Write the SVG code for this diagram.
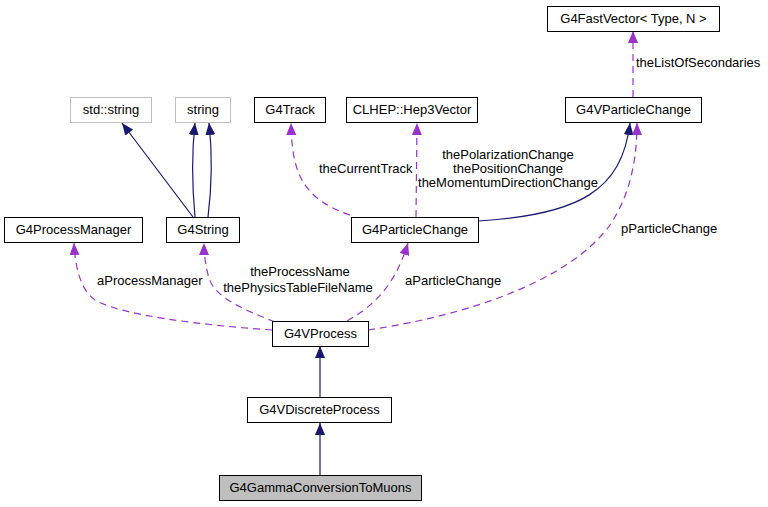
<svg xmlns="http://www.w3.org/2000/svg" width="768" height="507" viewBox="0 0 768 507">
<style>
text { font-family: "Liberation Sans", Arial, sans-serif; font-size: 13px; fill: #000; }
.n { text-anchor: middle; }
.box { fill: #fff; stroke: #000; stroke-width: 1; }
.ext { fill: #fff; stroke: #bfbfbf; stroke-width: 1; }
.cur { fill: #bfbfbf; stroke: #000; stroke-width: 1; }
.inh { fill: none; stroke: #191970; stroke-width: 1.2; marker-end: url(#an); }
.use { fill: none; stroke: #9a32cd; stroke-width: 1.2; stroke-dasharray: 7,5; marker-end: url(#ap); }
</style>
<defs>
<marker id="an" viewBox="0 0 12 10" refX="12" refY="5" markerWidth="12" markerHeight="10" markerUnits="userSpaceOnUse" orient="auto">
<path d="M0,0 L12,5 L0,10 z" fill="#191970"/>
</marker>
<marker id="ap" viewBox="0 0 12 10" refX="12" refY="5" markerWidth="12" markerHeight="10" markerUnits="userSpaceOnUse" orient="auto">
<path d="M0,0 L12,5 L0,10 z" fill="#9a32cd"/>
</marker>
</defs>
<rect width="768" height="507" fill="#fff"/>
<g id="edges">
<path class="inh" d="M193,217 L122,123"/>
<path class="inh" d="M195,217 C192,185 192,150 195,123"/>
<path class="inh" d="M208,217 C212,185 212,150 209,123"/>
<path class="use" d="M350,215 C300,198 292,170 291,123"/>
<path class="use" d="M416,217 L417,123"/>
<path class="inh" d="M478,221 C580,215 622,190 630,123"/>
<path class="use" d="M633,97 L633,31"/>
<path class="use" d="M368,330 C470,315 570,280 610,225 C630,195 637,160 637,123"/>
<path class="use" d="M347,321 C375,305 395,285 408,243"/>
<path class="use" d="M272,330 C200,325 120,315 95,300 C80,290 75,265 74,243"/>
<path class="use" d="M275,322 C245,310 215,298 209,278 C206,268 204,255 204,243"/>
<path class="inh" d="M320,397 L320,346"/>
<path class="inh" d="M320,475 L320,423"/>
</g>
<g id="labels">
<text x="319" y="173">theCurrentTrack</text>
<text class="n" x="508" y="159">thePolarizationChange</text>
<text class="n" x="508" y="173">thePositionChange</text>
<text class="n" x="508" y="187">theMomentumDirectionChange</text>
<text x="636" y="67">theListOfSecondaries</text>
<text x="621" y="233">pParticleChange</text>
<text x="405" y="285">aParticleChange</text>
<text x="97" y="285">aProcessManager</text>
<text class="n" x="300" y="276">theProcessName</text>
<text class="n" x="298" y="292">thePhysicsTableFileName</text>
</g>
<g id="G4FastVector"><rect class="box" x="547.5" y="6.5" width="172" height="25"/><text class="n" x="633.5" y="23">G4FastVector&lt; Type, N &gt;</text></g>
<g id="std_string"><rect class="ext" x="70.5" y="97.5" width="81" height="25"/><text class="n" x="111" y="114">std::string</text></g>
<g id="string"><rect class="ext" x="175.5" y="97.5" width="55" height="25"/><text class="n" x="203" y="114">string</text></g>
<g id="G4Track"><rect class="box" x="254.5" y="97.5" width="71" height="25"/><text class="n" x="290" y="114">G4Track</text></g>
<g id="Hep3Vector"><rect class="box" x="346.5" y="97.5" width="131" height="25"/><text class="n" x="412" y="114">CLHEP::Hep3Vector</text></g>
<g id="G4VParticleChange"><rect class="box" x="565.5" y="97.5" width="136" height="25"/><text class="n" x="633.5" y="114">G4VParticleChange</text></g>
<g id="G4ProcessManager"><rect class="box" x="4.5" y="217.5" width="138" height="25"/><text class="n" x="73.5" y="234">G4ProcessManager</text></g>
<g id="G4String"><rect class="box" x="166.5" y="217.5" width="73" height="25"/><text class="n" x="203" y="234">G4String</text></g>
<g id="G4ParticleChange"><rect class="box" x="351.5" y="217.5" width="127" height="25"/><text class="n" x="415" y="234">G4ParticleChange</text></g>
<g id="G4VProcess"><rect class="box" x="272.5" y="321.5" width="96" height="25"/><text class="n" x="320.5" y="338">G4VProcess</text></g>
<g id="G4VDiscreteProcess"><rect class="box" x="247.5" y="397.5" width="144" height="25"/><text class="n" x="319.5" y="414">G4VDiscreteProcess</text></g>
<g id="G4GammaConversionToMuons"><rect class="cur" x="219.5" y="475.5" width="202" height="25"/><text class="n" x="320.5" y="492">G4GammaConversionToMuons</text></g>
</svg>
